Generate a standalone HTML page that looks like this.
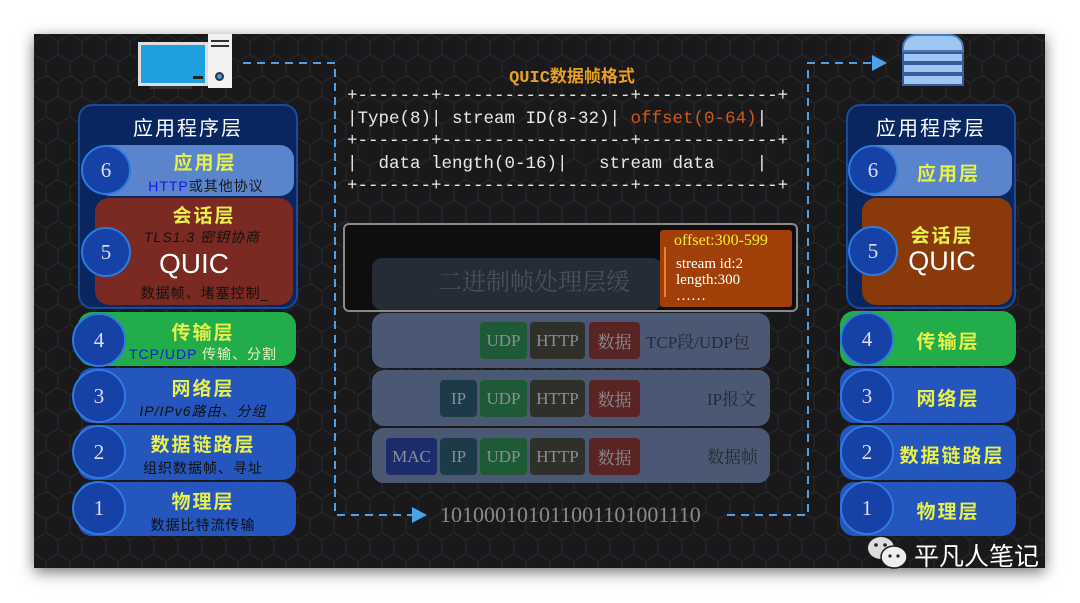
<!DOCTYPE html>
<html><head><meta charset="utf-8"><style>
*{margin:0;padding:0;box-sizing:border-box}
body{width:1080px;height:603px;background:#fff;position:relative;overflow:hidden;font-family:"Liberation Sans","Noto Sans CJK SC",sans-serif}
#panel{position:absolute;left:34px;top:34px;width:1011px;height:534px;background:#19191b;box-shadow:0 4px 14px rgba(0,0,0,.55);overflow:hidden}
.a{position:absolute}
.box{position:absolute;border-radius:14px}
.cir{position:absolute;border-radius:50%;background:#1642a8;border:2px solid #2d7ae0;color:#dde;font-family:"Liberation Serif",serif;font-size:21px;display:flex;align-items:center;justify-content:center}
.ttl{color:#e8f04a;font-size:19px;font-weight:bold;text-align:center;position:absolute;white-space:nowrap;letter-spacing:2px}
.sub{font-size:14px;text-align:center;position:absolute;white-space:nowrap;letter-spacing:1px}
.mono{font-family:"Liberation Mono",monospace;font-size:17.5px;color:#e8e8e8;position:absolute;white-space:pre}
.chip{position:absolute;height:37px;border-radius:4px;font-family:"Liberation Serif","Noto Serif CJK SC",serif;font-size:17px;color:#8a8f95;display:flex;align-items:center;justify-content:center}
.row{position:absolute;left:372px;width:398px;height:54px;border-radius:12px;background:#4a5874}
.rl{position:absolute;font-family:"Liberation Serif","Noto Serif CJK SC",serif;font-size:17px;color:#262a34;white-space:nowrap}
</style></head><body>
<div id="panel">
<svg width="1011" height="534" style="position:absolute;left:0;top:0">
<defs><pattern id="hx" width="24" height="41.6" patternUnits="userSpaceOnUse">
<path d="M0 6.9 L12 0 L24 6.9 L24 20.8 L12 27.7 L0 20.8Z M12 27.7 L12 41.6" fill="none" stroke="#2a2a2e" stroke-width="1"/></pattern></defs>
<rect width="1011" height="534" fill="url(#hx)"/>
<g stroke="#4aa3e8" stroke-width="2" stroke-dasharray="8,6" fill="none">
<path d="M209 29 H301 V481 H378"/>
<path d="M693 481 H774 V29 H838"/>
</g>
<path d="M378 473 L393 481 L378 489Z" fill="#4aa3e8"/>
<path d="M838 21 L853 29 L838 37Z" fill="#4aa3e8"/>
</svg>
</div>
<!-- computer -->
<div class="a" style="left:138px;top:42px;width:70px;height:44px;border:3px solid #ddd;background:#1ea0e0"></div>
<div class="a" style="left:193px;top:76px;width:10px;height:3px;background:#222"></div>
<div class="a" style="left:150px;top:86px;width:42px;height:3px;background:#333"></div>
<div class="a" style="left:208px;top:34px;width:24px;height:54px;background:#f2f2f2"></div>
<div class="a" style="left:211px;top:40px;width:18px;height:2px;background:#333"></div>
<div class="a" style="left:211px;top:45px;width:18px;height:2px;background:#333"></div>
<div class="a" style="left:215px;top:72px;width:9px;height:9px;border-radius:50%;background:#3aa0e0;border:2px solid #333"></div>
<!-- server -->
<div class="a" style="left:902px;top:34px;width:62px;height:18px;border-radius:14px 14px 0 0;background:#9cc7f2;border:2px solid #4a78b8"></div>
<div class="a" style="left:902px;top:52px;width:62px;height:11px;background:#9cc7f2;border:2px solid #3a5a98"></div>
<div class="a" style="left:902px;top:63px;width:62px;height:11px;background:#9cc7f2;border:2px solid #3a5a98"></div>
<div class="a" style="left:902px;top:74px;width:62px;height:12px;background:#9cc7f2;border:2px solid #3a5a98"></div>

<!-- left stack -->
<div class="box" style="left:78px;top:104px;width:220px;height:205px;background:#0a2660;border:2px solid #1c4a9a"></div>
<div class="a" style="left:78px;top:112px;width:220px;text-align:center;color:#fff;font-size:20px;letter-spacing:2px">应用程序层</div>
<div class="box" style="left:96px;top:145px;width:198px;height:51px;background:#5a84cc"></div>
<div class="ttl" style="left:106px;top:148px;width:198px">应用层</div>
<div class="sub" style="left:118px;top:176px;width:176px;color:#1a1a1a"><span style="color:#1818e8">HTTP</span>或其他协议</div>
<div class="box" style="left:95px;top:198px;width:198px;height:107px;background:#7a2a22"></div>
<div class="ttl" style="left:105px;top:201px;width:198px">会话层</div>
<div class="sub" style="left:112px;top:227px;width:180px;color:#111;font-style:italic">TLS1.3 密钥协商</div>
<div class="a" style="left:95px;top:248px;width:198px;text-align:center;color:#fff;font-size:28px">QUIC</div>
<div class="sub" style="left:115px;top:283px;width:180px;color:#111">数据帧、堵塞控制_</div>
<div class="cir" style="left:81px;top:145px;width:50px;height:50px">6</div>
<div class="cir" style="left:81px;top:227px;width:50px;height:50px">5</div>

<div class="box" style="left:78px;top:312px;width:218px;height:54px;background:#22ad4a"></div>
<div class="ttl" style="left:110px;top:318px;width:186px">传输层</div>
<div class="sub" style="left:110px;top:344px;width:186px;color:#e8f0c0"><span style="color:#1520d8">TCP/UDP</span> 传输、分割</div>
<div class="box" style="left:78px;top:368px;width:218px;height:55px;background:#2456be"></div>
<div class="ttl" style="left:110px;top:374px;width:186px">网络层</div>
<div class="sub" style="left:110px;top:401px;width:186px;color:#111;font-style:italic">IP/IPv6路由、分组</div>
<div class="box" style="left:78px;top:425px;width:218px;height:55px;background:#2456be"></div>
<div class="ttl" style="left:110px;top:430px;width:186px">数据链路层</div>
<div class="sub" style="left:110px;top:458px;width:186px;color:#111">组织数据帧、寻址</div>
<div class="box" style="left:78px;top:482px;width:218px;height:54px;background:#2456be"></div>
<div class="ttl" style="left:110px;top:487px;width:186px">物理层</div>
<div class="sub" style="left:110px;top:515px;width:186px;color:#111">数据比特流传输</div>
<div class="cir" style="left:72px;top:313px;width:54px;height:54px">4</div>
<div class="cir" style="left:72px;top:369px;width:54px;height:54px">3</div>
<div class="cir" style="left:72px;top:425px;width:54px;height:54px">2</div>
<div class="cir" style="left:72px;top:481px;width:54px;height:54px">1</div>

<!-- right stack -->
<div class="box" style="left:846px;top:104px;width:170px;height:205px;background:#0a2660;border:2px solid #1c4a9a"></div>
<div class="a" style="left:846px;top:112px;width:170px;text-align:center;color:#fff;font-size:20px;letter-spacing:2px">应用程序层</div>
<div class="box" style="left:860px;top:145px;width:152px;height:51px;background:#5a84cc"></div>
<div class="ttl" style="left:885px;top:159px;width:127px">应用层</div>
<div class="box" style="left:862px;top:198px;width:150px;height:107px;background:#8a3a0a"></div>
<div class="ttl" style="left:862px;top:221px;width:160px">会话层</div>
<div class="a" style="left:862px;top:246px;width:160px;text-align:center;color:#fff;font-size:27px">QUIC</div>
<div class="cir" style="left:848px;top:145px;width:50px;height:50px">6</div>
<div class="cir" style="left:848px;top:226px;width:50px;height:50px">5</div>
<div class="box" style="left:840px;top:311px;width:176px;height:55px;background:#22ad4a"></div>
<div class="ttl" style="left:880px;top:327px;width:136px">传输层</div>
<div class="box" style="left:840px;top:368px;width:176px;height:55px;background:#2456be"></div>
<div class="ttl" style="left:880px;top:384px;width:136px">网络层</div>
<div class="box" style="left:840px;top:425px;width:176px;height:55px;background:#2456be"></div>
<div class="ttl" style="left:884px;top:441px;width:136px">数据链路层</div>
<div class="box" style="left:840px;top:482px;width:176px;height:54px;background:#2456be"></div>
<div class="ttl" style="left:880px;top:497px;width:136px">物理层</div>
<div class="cir" style="left:840px;top:312px;width:54px;height:54px">4</div>
<div class="cir" style="left:840px;top:369px;width:54px;height:54px">3</div>
<div class="cir" style="left:840px;top:425px;width:54px;height:54px">2</div>
<div class="cir" style="left:840px;top:481px;width:54px;height:54px">1</div>

<!-- middle -->
<div class="a" style="left:470px;top:62px;width:204px;text-align:center;color:#e8a020;font-size:17px;font-weight:bold;font-family:'Liberation Mono','Noto Sans CJK SC',monospace">QUIC数据帧格式</div>
<div class="mono" style="left:347px;top:85px;line-height:22.5px">+-------+------------------+-------------+
|Type(8)| stream ID(8-32)| <span style="color:#d05818">offset(0-64)</span>|
+-------+------------------+-------------+
|  data length(0-16)|   stream data    |
+-------+------------------+-------------+</div>

<div class="row" style="top:313px;height:55px"></div>
<div class="row" style="top:370px;height:56px"></div>
<div class="row" style="top:428px;height:55px"></div>
<div class="a" style="left:343px;top:223px;width:455px;height:89px;border:2px solid #8a8a8a;border-radius:6px;background:#0e0e10"></div>
<div class="a" style="left:372px;top:258px;width:290px;height:52px;border-radius:10px;background:#262c36"></div>
<div class="a" style="left:438px;top:262px;font-size:24px;color:#4a4f58;font-family:'Liberation Serif','Noto Serif CJK SC',serif">二进制帧处理层缓</div>
<div class="a" style="left:660px;top:230px;width:132px;height:77px;background:#a04008;border-radius:3px"></div>
<div class="a" style="left:664px;top:247px;width:2px;height:50px;background:#f08030"></div>
<div class="a" style="left:674px;top:232px;color:#f0f020;font-size:16px;font-family:'Liberation Serif',serif">offset:300-599</div>
<div class="a" style="left:676px;top:256px;color:#fff;font-size:15px;line-height:16px;font-family:'Liberation Serif',serif">stream id:2<br>length:300<br>……</div>

<div class="chip" style="left:480px;top:322px;width:47px;background:#1e5a36">UDP</div>
<div class="chip" style="left:530px;top:322px;width:55px;background:#30302a">HTTP</div>
<div class="chip" style="left:589px;top:322px;width:51px;background:#5a2424">数据</div>
<div class="rl" style="left:646px;top:328px">TCP段/UDP包</div>
<div class="chip" style="left:440px;top:380px;width:37px;background:#1c3a48">IP</div>
<div class="chip" style="left:480px;top:380px;width:47px;background:#1e5a36">UDP</div>
<div class="chip" style="left:530px;top:380px;width:55px;background:#30302a">HTTP</div>
<div class="chip" style="left:589px;top:380px;width:51px;background:#5a2424">数据</div>
<div class="rl" style="left:707px;top:385px">IP报文</div>
<div class="chip" style="left:386px;top:438px;width:51px;background:#1c2c6a">MAC</div>
<div class="chip" style="left:440px;top:438px;width:37px;background:#1c3a48">IP</div>
<div class="chip" style="left:480px;top:438px;width:47px;background:#1e5a36">UDP</div>
<div class="chip" style="left:530px;top:438px;width:55px;background:#30302a">HTTP</div>
<div class="chip" style="left:589px;top:438px;width:51px;background:#5a2424">数据</div>
<div class="rl" style="left:707px;top:443px">数据帧</div>

<div class="a" style="left:440px;top:502px;color:#8a8a8a;font-size:22px;font-family:'Liberation Serif',serif">101000101011001101001110</div>

<!-- watermark -->
<svg class="a" style="left:866px;top:535px" width="44" height="36">
<ellipse cx="15" cy="13" rx="13" ry="11" fill="#ddd"/>
<ellipse cx="28" cy="22" rx="13" ry="11" fill="#eee" stroke="#19191b" stroke-width="1.5"/>
<circle cx="10" cy="10" r="1.8" fill="#222"/><circle cx="19" cy="10" r="1.8" fill="#222"/>
<circle cx="24" cy="21" r="1.6" fill="#222"/><circle cx="32" cy="21" r="1.6" fill="#222"/>
</svg>
<div class="a" style="left:914px;top:537px;color:#fff;font-size:25px;white-space:nowrap">平凡人笔记</div>
</body></html>
